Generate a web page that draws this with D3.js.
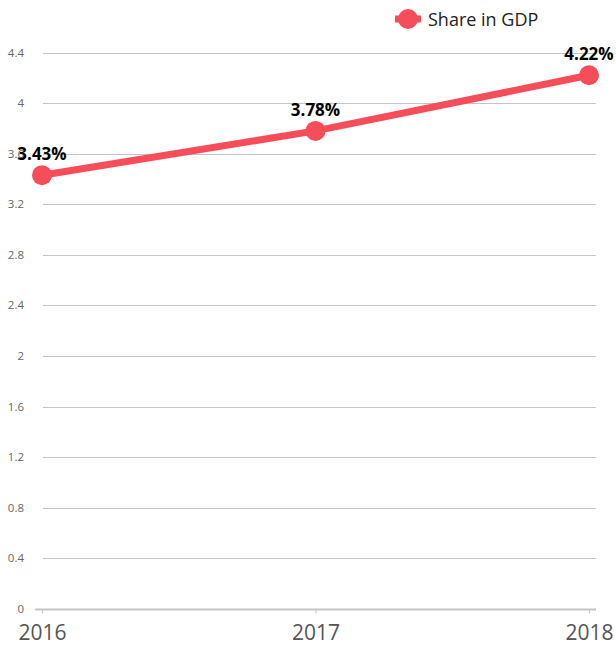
<!DOCTYPE html>
<html>
<head>
<meta charset="utf-8">
<script src="https://cdn.jsdelivr.net/npm/d3@7"></script>
<style>
  body { margin: 0; background: #fff; }
  text { font-family: "Open Sans", sans-serif; }
</style>
</head>
<body>
<div id="chart"></div>
<script>
// data
var years = ["2016", "2017", "2018"];
var shares = [3.43, 3.78, 4.22];
var yTicks = [0, 0.4, 0.8, 1.2, 1.6, 2, 2.4, 2.8, 3.2, 3.6, 4, 4.4];
var seriesName = "Share in GDP";

var W = 616, H = 650;
var red = "#f64d5a";

var svg = d3.select("#chart")
  .append("svg")
    .attr("width", W)
    .attr("height", H);

var x = d3.scalePoint()
  .domain(years)
  .range([42, 589]);

var y = d3.scaleLinear()
  .domain([0, 4.4])
  .range([609, 52.5]);

// gridlines
svg.append("g")
  .selectAll("line")
  .data(yTicks.filter(function (d) { return d > 0; }))
  .enter()
  .append("line")
    .attr("x1", 43)
    .attr("x2", 596)
    .attr("y1", function (d) { return Math.round(y(d)) + 0.5; })
    .attr("y2", function (d) { return Math.round(y(d)) + 0.5; })
    .attr("stroke", "#c4c4c4")
    .attr("stroke-width", 1);

// y tick labels
svg.append("g")
  .selectAll("text")
  .data(yTicks)
  .enter()
  .append("text")
    .attr("x", 24)
    .attr("y", function (d) { return y(d) + 4; })
    .attr("text-anchor", "end")
    .attr("font-size", 11.5)
    .attr("fill", "#666")
    .text(function (d) { return d; });

// x axis
var xAxis = svg.append("g")
  .attr("transform", "translate(0," + (Math.round(y(0)) + 0.5) + ")")
  .call(d3.axisBottom(x).tickSize(4).tickPadding(12));
xAxis.select(".domain")
  .attr("d", "M35,0H596")
  .attr("stroke", "#c4c4c4")
  .attr("stroke-width", 2);
xAxis.selectAll(".tick line").attr("stroke", "#c4c4c4");
xAxis.selectAll(".tick text")
  .attr("font-family", "Open Sans, sans-serif")
  .attr("font-size", 21)
  .attr("fill", "#555");

// line
var line = d3.line()
  .x(function (d, i) { return x(years[i]); })
  .y(function (d) { return y(d); });

svg.append("path")
  .datum(shares)
  .attr("d", line)
  .attr("fill", "none")
  .attr("stroke", red)
  .attr("stroke-width", 7);

svg.append("g")
  .selectAll("circle")
  .data(shares)
  .enter()
  .append("circle")
    .attr("cx", function (d, i) { return x(years[i]); })
    .attr("cy", function (d) { return y(d); })
    .attr("r", 10)
    .attr("fill", red);

// value labels
svg.append("g")
  .selectAll("text")
  .data(shares)
  .enter()
  .append("text")
    .attr("x", function (d, i) { return x(years[i]); })
    .attr("y", function (d) { return y(d) - 15; })
    .attr("text-anchor", "middle")
    .attr("font-size", 17)
    .attr("font-weight", "bold")
    .attr("fill", "#000")
    .text(function (d) { return d.toFixed(2) + "%"; });

// legend
var legend = svg.append("g").attr("transform", "translate(408,19)");
legend.append("line")
  .attr("x1", -13).attr("x2", 13)
  .attr("stroke", red).attr("stroke-width", 7);
legend.append("circle")
  .attr("r", 10).attr("fill", red);
legend.append("text")
  .attr("x", 20)
  .attr("y", 7)
  .attr("font-size", 18)
  .attr("fill", "#222")
  .text(seriesName);
</script>
</body>
</html>
